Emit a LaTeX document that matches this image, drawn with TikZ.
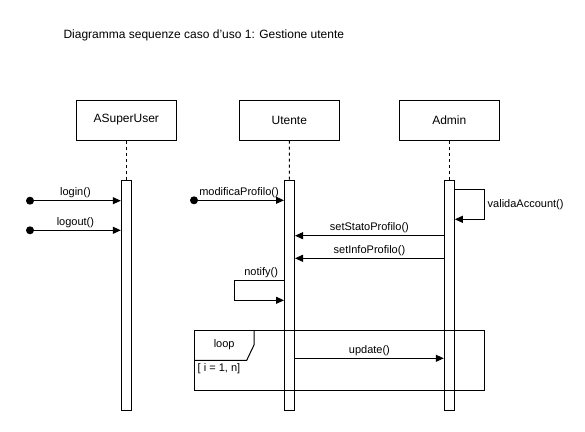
\documentclass[tikz,border=0pt]{standalone}
\usepackage{fontspec}
\setmainfont{Liberation Sans}
\usetikzlibrary{arrows.meta}
\tikzset{
    head/.style={rectangle, draw, line width=1pt, minimum width=100pt, minimum height=40pt, font=\fontsize{12}{14}\selectfont},
    bar/.style={rectangle, draw, line width=1pt, fill=white, minimum width=10pt, minimum height=229.6pt, inner sep=0pt},
    msg/.style={line width=1pt, -{Triangle[length=8pt,width=7pt]}},
    lbl/.style={font=\fontsize{11}{13}\selectfont, inner sep=1pt},
    startdot/.style={circle, fill, inner sep=0pt, minimum size=8pt}
}
\begin{document}
\begin{tikzpicture}[x=1pt, y=-1pt]
                    \useasboundingbox (0,0) rectangle (585,431);
                    % Title
                    \node[anchor=west, font=\fontsize{12}{14}\selectfont, inner sep=0pt] (title) at (63.3,35) {Diagramma sequenze caso d'uso 1: Gestione utente};
                    % Heads
                    \node[head] (super) at (126.3,120) {ASuperUser};
                    \node[head] (utente) at (289.3,120) {Utente};
                    \node[head] (admin) at (449.3,120) {Admin};
                    % Lifelines
                    \draw[dashed, line width=1pt] (super.south) -- (126.3,180.7);
                    \draw[dashed, line width=1pt] (utente.south) -- (289.5,180.7);
                    \draw[dashed, line width=1pt] (admin.south) -- (449.3,180.7);
                    % Bars
                    \node[bar] (barS) at (126.3,295.5) {};
                    \node[bar] (barU) at (289.5,295.5) {};
                    \node[bar] (barA) at (449.3,295.5) {};
                    % Loop frame
                    \draw[line width=1pt] (194.3,330.3) rectangle (484.3,390.3);
                    \draw[line width=1pt] (194.3,360.3) -- (246.7,360.3) -- (254,345) -- (254,330.3);
                    \node[lbl] (loop) at (224.2,345) {loop};
                    \node[lbl, anchor=west] (guard) at (196.5,368.3) {[ i = 1, n]};
                    % Start points
                    \node[startdot] (dLogin) at (30,200.7) {};
                    \node[startdot] (dLogout) at (30,230.3) {};
                    \node[startdot] (dModifica) at (194,200.3) {};
                    \coordinate (vA) at (484.3,189.7);
                    \coordinate (vB) at (484.3,219.3);
                    \coordinate (nA) at (234.3,280.7);
                    \coordinate (nB) at (234.3,300.3);
                    % Messages
                    \draw[msg] (dLogin.center) -- node[lbl, above=1pt] (lLogin) {login()} (dLogin -| barS.west);
                    \draw[msg] (dLogout.center) -- node[lbl, above=1pt] (lLogout) {logout()} (dLogout -| barS.west);
                    \draw[msg] (dModifica.center) -- node[lbl, above=1pt] (lModifica) {modificaProfilo()} (dModifica -| barU.west);
                    \draw[msg] (vA -| barA.east) -- (vA) -- (vB) -- (vB -| barA.east);
                    \node[lbl, anchor=west] (lValida) at (486.5,204.5) {validaAccount()};
                    \draw[msg] (barA.west |- 0,235.7) -- node[lbl, above=1pt] (lStato) {setStatoProfilo()} (barU.east |- 0,235.7);
                    \draw[msg] (barA.west |- 0,258.3) -- node[lbl, above=1pt] (lInfo) {setInfoProfilo()} (barU.east |- 0,258.3);
                    \draw[msg] (nA -| barU.west) -- node[lbl, above=1pt, xshift=2pt] (lNotify) {notify()} (nA) -- (nB) -- (nB -| barU.west);
                    \draw[msg] (barU.east |- 0,358.3) -- node[lbl, above=1pt] (lUpdate) {update()} (barA.west |- 0,358.3);
                \end{tikzpicture}
\end{document}
